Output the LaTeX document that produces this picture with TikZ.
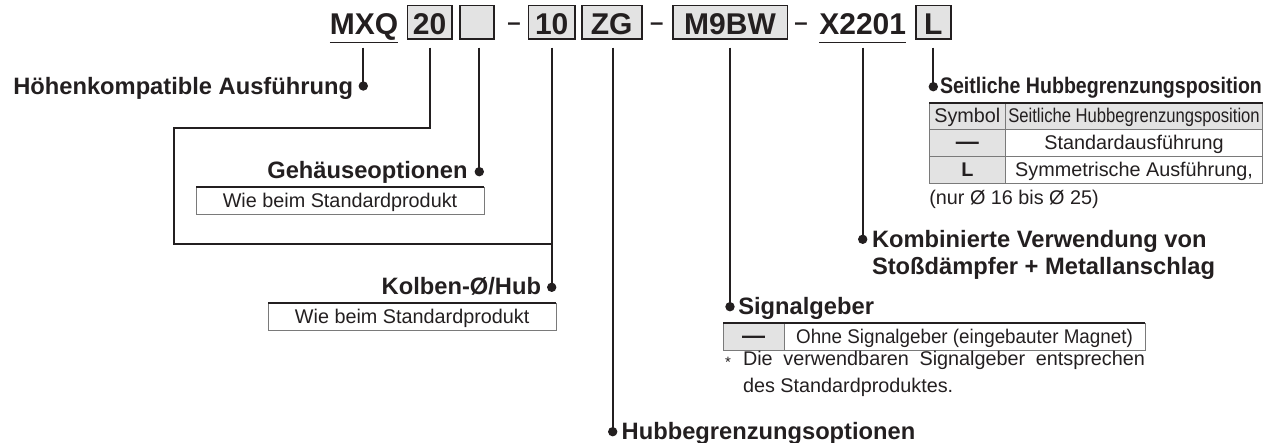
\documentclass[tikz,border=0pt]{standalone}
\usepackage{fontspec}
\usepackage{graphicx}
\setmainfont{Liberation Sans}
\definecolor{ink}{HTML}{231F20}
\definecolor{boxgray}{HTML}{E3E3E3}
\definecolor{gridgray}{HTML}{7A7A7A}
\newcommand\fhdr{\fontsize{30}{34}\selectfont\bfseries}
\newcommand\flbl{\fontsize{23.7}{28}\selectfont\bfseries}
\newcommand\freg{\fontsize{19.8}{24}\selectfont}
\begin{document}
\begin{tikzpicture}[x=1pt,y=-1pt,
  every node/.style={text=ink, inner sep=0pt, outer sep=0pt},
  conn/.style={draw=ink, line width=1.9pt},
  dot/.style={circle, fill=ink, minimum size=9.4pt, inner sep=0pt},
  hbox/.style={draw=ink, line width=1.6pt, fill=boxgray, inner xsep=0pt, inner ysep=2pt, text height=27.5pt, text depth=2.3pt, font=\fhdr},
  htext/.style={font=\fhdr, anchor=base},
  uline/.style={draw=ink, line width=1.5pt},
  dashn/.style={font=\fontsize{24}{28}\selectfont\bfseries, anchor=base},
  lbl/.style={font=\flbl},
  cell/.style={draw=gridgray, line width=0.8pt, anchor=north west, minimum height=26.9pt, text height=15pt, text depth=2pt, font=\freg},
  gcell/.style={cell, fill=boxgray},
  topline/.style={draw=ink, line width=2pt},
  txt/.style={font=\freg}]
\useasboundingbox (0,0) rectangle (1279,443);

% ---- header ----
\node[htext] (mxq) at (364,35) {MXQ};
\node[hbox, minimum width=44.4pt] (b20) at (429.5,22.4) {20};
\node[hbox, minimum width=34pt] (bE) at (477,22.4) {};
\node[dashn] (da1) at (514,30.8) {\textendash};
\node[hbox, minimum width=46.7pt] (b10) at (551.7,22.4) {10};
\node[hbox, minimum width=60pt] (bZG) at (611.7,22.4) {ZG};
\node[dashn] (da2) at (656.7,30.8) {\textendash};
\node[hbox, minimum width=114.6pt] (bM) at (730,22.4) {M9BW};
\node[dashn] (da3) at (801,30.8) {\textendash};
\node[htext] (xnum) at (862.7,35) {X2201};
\node[hbox, minimum width=35pt] (bL) at (933.3,22.4) {L};
\draw[uline] ([yshift=-7.7pt]mxq.base west) -- ([yshift=-7.7pt]mxq.base east);
\draw[uline] ([yshift=-7.7pt]xnum.base west) -- ([yshift=-7.7pt]xnum.base east);

% ---- line tops ----
\coordinate (t1) at (363.3,47.7);
\coordinate (t2) at (430,47.7);
\coordinate (t3) at (479.3,47.7);
\coordinate (t4) at (551.7,47.7);
\coordinate (t5) at (612.7,47.7);
\coordinate (t6) at (730,47.7);
\coordinate (t7) at (862.7,47.7);
\coordinate (t8) at (933.3,47.7);

% ---- dots ----
\node[dot] (d1) at (363.3,86) {};
\node[dot] (d3) at (479.3,171.7) {};
\node[dot] (d4) at (551.7,287.3) {};
\node[dot] (d5) at (612.7,431.7) {};
\node[dot] (d6) at (730,306.7) {};
\node[dot] (d7) at (862.7,239.3) {};
\node[dot] (d8) at (933.3,86.7) {};

% ---- connectors ----
\coordinate (lp1) at (174,128.3);
\coordinate (lp2) at (174,244.3);
\draw[conn] (t1) -- (d1.center);
\draw[conn] (t2) |- (lp1) -- (lp2) -| (d4.center);
\draw[conn] (t3) -- (d3.center);
\draw[conn] (t4) -- (d4.center);
\draw[conn] (t5) -- (d5.center);
\draw[conn] (t6) -- (d6.center);
\draw[conn] (t7) -- (d7.center);
\draw[conn] (t8) -- (d8.center);

% ---- labels ----
\node[lbl, anchor=base east] (l1) at (353,95) {Höhenkompatible Ausführung};
\node[lbl, anchor=base east] (l3) at (467.5,178.3) {Gehäuseoptionen};
\node[lbl, anchor=base east] (l4) at (541,295) {Kolben-Ø/Hub};
\node[lbl, anchor=base west] (l8) at (940,93.3) {\fontsize{22.5}{26}\selectfont\scalebox{0.87}[1]{Seitliche Hubbegrenzungsposition}};
\node[lbl, anchor=base west] (l7a) at (872,247.7) {Kombinierte Verwendung von};
\node[lbl, anchor=base west] (l7b) at (872,275) {Stoßdämpfer + Metallanschlag};
\node[lbl, anchor=base west] (l6) at (738.3,315) {Signalgeber};
\node[lbl, anchor=base west] (l5) at (621.7,439.3) {Hubbegrenzungsoptionen};

% ---- small boxes ----
\node[cell, minimum width=288pt] (g1) at (196,187.3) {Wie beim Standardprodukt};
\draw[topline] (g1.north west) -- (g1.north east);
\node[cell, minimum width=287.7pt] (k1) at (268.3,303.3) {Wie beim Standardprodukt};
\draw[topline] (k1.north west) -- (k1.north east);

% ---- side stroke table ----
\node[gcell, minimum width=76pt] (c11) at (929.3,102.7) {Symbol};
\node[gcell, minimum width=257.4pt] (c12) at (c11.north east) {\scalebox{0.84}[1]{Seitliche Hubbegrenzungsposition}};
\node[gcell, minimum width=76pt] (c21) at (c11.south west) {\fontsize{23}{24}\selectfont\bfseries —};
\node[cell, minimum width=257.4pt] (c22) at (c21.north east) {Standardausführung};
\node[gcell, minimum width=76pt] (c31) at (c21.south west) {\bfseries L};
\node[cell, minimum width=257.4pt] (c32) at (c31.north east) {Symmetrische Ausführung,};
\draw[topline] (c11.north west) -- (c12.north east);
\node[txt, anchor=base west] (nur) at (929.3,205) {(nur Ø 16 bis Ø 25)};

% ---- switch table ----
\node[gcell, minimum width=60.7pt, minimum height=26.7pt] (s1) at (723.3,323.3) {\fontsize{23}{24}\selectfont\bfseries —};
\node[cell, minimum width=361pt, minimum height=26.7pt] (s2) at (s1.north east) {\scalebox{0.95}[1]{Ohne Signalgeber (eingebauter Magnet)}};
\draw[topline] (s1.north west) -- (s2.north east);
\node[anchor=base west, font=\fontsize{15}{15}\selectfont] (fst) at (725,367) {*};
\node[txt, anchor=base west] (fn1) at (743,365) {\makebox[402pt][s]{Die verwendbaren Signalgeber entsprechen}};
\node[txt, anchor=base west] (fn2) at (743,392) {des Standardproduktes.};
\end{tikzpicture}
\end{document}
